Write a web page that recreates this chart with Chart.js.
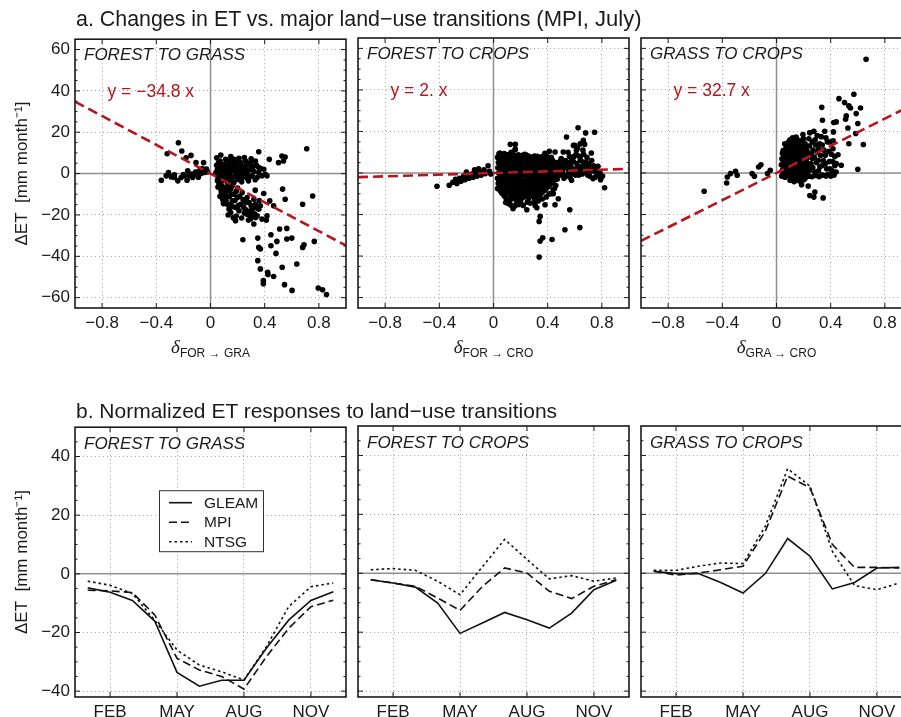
<!DOCTYPE html>
<html>
<head>
<meta charset="utf-8">
<title>ET vs land-use transitions</title>
<script src="https://cdn.jsdelivr.net/npm/chart.js@4.4.1/dist/chart.umd.min.js"></script>
<style>
  html, body { margin: 0; padding: 0; background: #fff; overflow: hidden; }
  #fig { position: relative; width: 930px; height: 717px; font-family: "Liberation Sans", Arial, Helvetica, sans-serif; color: #1a1a1a; }
  #fig canvas { position: absolute; }
  .row-title { position: absolute; left: 76px; font-size: 21px; line-height: 21px; white-space: nowrap; }
  .row-title small { font-size: 22px; }
  .x-title { position: absolute; width: 271px; top: 338px; text-align: center; line-height: 18px; white-space: nowrap; }
  .x-title i { font-family: "Liberation Serif", "Times New Roman", serif; font-size: 19px; }
  .x-title span { font-size: 12px; position: relative; top: 3.5px; }
</style>
</head>
<body>
<div id="fig">
  <div class="row-title" style="top:8px;font-size:21.4px">a. Changes in ET vs. major land−use transitions <small>(MPI, July)</small></div>
  <div class="row-title" style="top:400px">b. Normalized ET responses to land−use transitions</div>
  <div class="x-title" style="left:75px"><i>δ</i><span>FOR → GRA</span></div>
  <div class="x-title" style="left:358px"><i>δ</i><span>FOR → CRO</span></div>
  <div class="x-title" style="left:641px"><i>δ</i><span>GRA → CRO</span></div>
</div>
<script>
const FONT = '"Liberation Sans", Arial, Helvetica, sans-serif';
const INK = '#1a1a1a';
const RED = '#b3161c';

// ---- data ----
const panelNames = ['FOREST TO GRASS', 'FOREST TO CROPS', 'GRASS TO CROPS'];
const slopes = [-34.8, 2.0, 32.7];
const slopeLabels = ['y = −34.8 x', 'y = 2. x', 'y = 32.7 x'];
const regressionEnds = [-1, 1];

const deltaTicks = [-0.8, -0.4, 0, 0.4, 0.8];
const deltaTickLabels = ['−0.8', '−0.4', '0', '0.4', '0.8'];
const etTicksA = [-60, -40, -20, 0, 20, 40, 60];
const etTickLabelsA = ['−60', '−40', '−20', '0', '20', '40', '60'];
const etTicksB = [-40, -20, 0, 20, 40];
const etTickLabelsB = ['−40', '−20', '0', '20', '40'];

const months = [1, 2, 3, 4, 5, 6, 7, 8, 9, 10, 11, 12];
const monthTicks = [2, 5, 8, 11];
const monthTickLabels = ['FEB', 'MAY', 'AUG', 'NOV'];
const products = ['GLEAM', 'MPI', 'NTSG'];

// monthly normalized responses [GLEAM, MPI, NTSG]
const forGraMonthly = [
  [-4.8, -6.3, -9.1, -16.1, -33.6, -38.3, -36.3, -36.3, -25.4, -15.8, -9.1, -6.1],
  [-5.6, -5.8, -6.4, -14.0, -28.8, -32.8, -35.0, -39.3, -28.3, -18.6, -11.2, -9.0],
  [-2.5, -3.9, -6.7, -15.8, -26.0, -31.1, -33.4, -36.2, -24.9, -11.2, -4.4, -3.1]
];
const forCroMonthly = [
  [-2.2, -3.3, -4.7, -10.1, -20.4, -16.9, -13.3, -15.8, -18.6, -13.5, -5.6, -2.4],
  [-2.2, -3.3, -4.4, -8.4, -12.6, -4.5, 1.8, 0.1, -6.1, -8.6, -4.4, -2.2],
  [1.2, 1.6, 1.0, -2.7, -7.3, 2.2, 11.5, 4.7, -1.9, -0.8, -2.7, -1.6]
];
const graCroMonthly = [
  [0.7, -0.1, -0.1, -3.1, -6.7, -0.1, 11.8, 5.8, -5.3, -3.1, 1.8, 2.0],
  [0.7, -0.6, 0.1, 1.2, 2.4, 14.3, 33.0, 29.0, 9.8, 2.0, 2.0, 1.8],
  [1.0, 1.0, 2.4, 3.5, 3.3, 16.0, 35.5, 29.6, 7.5, -4.2, -5.6, -3.3]
];

// scatter points [delta, dET]
const forGraPts = [
  [-0.363,-3.2],[-0.327,-1.1],[-0.31,0.5],[-0.29,-1.6],[-0.266,-1.9],[-0.241,-3.5],[-0.217,-1.9],[-0.193,-1.1],
  [-0.173,-3.2],[-0.156,-1.1],[-0.132,-1.9],[-0.12,-0.3],[-0.095,-0.6],[-0.071,0],[-0.046,0.5],[-0.022,0.8],
  [-0.237,14.9],[-0.212,10.9],[-0.32,9.6],[-0.18,7.7],[-0.144,8.8],[-0.107,5.3],[-0.051,5.3],[-0.168,1.3],
  [-0.266,-0.6],[-0.08,1.5],[-0.06,2.5],[-0.11,0.8],[-0.2,-0.5],[-0.14,-0.2],[-0.03,2.2],[-0.09,-1.8],
  [0.046,7.7],[0.076,9.0],[0.071,6.1],[0.1,4.5],[0.112,6.9],[0.137,6.1],[0.173,6.9],[0.21,7.4],[0.222,5.3],
  [0.259,6.1],[0.295,5.3],[0.332,6.1],[0.32,3.7],[0.356,2.9],[0.393,2.1],[0.405,-0.3],[0.417,-1.1],[0.38,-1.1],
  [0.344,-1.9],[0.307,-1.1],[0.27,0.5],[0.234,2.1],[0.198,2.9],[0.161,2.1],[0.124,1.3],[0.088,1.3],[0.051,2.1],
  [0.051,-0.3],[0.088,-1.1],[0.124,-1.9],[0.161,-1.9],[0.198,-2.7],[0.234,-1.9],[0.27,-2.2],[0.222,0.5],[0.19,0.5],
  [0.149,3.7],[0.295,2.1],[0.356,0.5],[0.124,-4.3],[0.088,-3.5],[0.173,-4.3],[0.246,3.7],[0.283,4.5],[0.185,4.5],
  [0.063,3.7],[0.04,0.5],[0.06,5.5],[0.15,8.2],[0.25,7.8],[0.3,7.2],[0.07,-5],[0.11,-0.5],[0.14,0],[0.175,1.2],
  [0.21,-1],[0.26,-0.8],[0.32,1],[0.37,2.5],[0.2,6],[0.12,4],[0.085,3],[0.16,5],[0.28,-3.5],[0.23,-4],[0.33,-3],
  [0.045,4],[0.055,-2],[0.065,1],[0.075,-3],[0.08,4.5],[0.095,-0.2],[0.105,2.5],[0.115,-3],[0.13,3],[0.135,-1],
  [0.145,1.5],[0.155,-3.5],[0.165,3.5],[0.18,-1],[0.19,6.5],[0.205,1.5],[0.215,-3],[0.225,3.5],[0.24,0],[0.255,2],
  [0.265,4],[0.28,1.5],[0.29,-1.5],[0.31,3],[0.34,4],
  [0.063,-5.1],[0.076,-7.6],[0.088,-10],[0.1,-12.4],[0.124,-14.8],[0.137,-17.2],[0.149,-18.8],[0.161,-13.2],
  [0.185,-16.4],[0.21,-18],[0.222,-14.8],[0.246,-16.4],[0.27,-19.6],[0.295,-18],[0.307,-20.4],[0.198,-11.6],
  [0.234,-9.2],[0.27,-11.6],[0.32,-12.4],[0.332,-14.8],[0.356,-17.2],[0.124,-8.4],[0.161,-5.9],[0.1,-6.7],
  [0.173,-10],[0.259,-14],[0.344,-20.4],[0.38,-22],[0.063,-1.9],[0.051,-3.5],[0.08,-9],[0.11,-10.5],[0.14,-11],
  [0.15,-7.5],[0.2,-7],[0.19,-20.5],[0.23,-21.5],[0.28,-22.5],[0.33,-8],[0.3,-15.5],[0.095,-14.5],[0.13,-20],
  [0.17,-21.5],[0.36,-13],
  [0.055,-6.5],[0.07,-11],[0.085,-6],[0.09,-12.5],[0.105,-8.5],[0.115,-13],[0.13,-6.5],[0.145,-15],[0.155,-10],
  [0.165,-16],[0.18,-13],[0.19,-8.5],[0.205,-15.5],[0.215,-11],[0.24,-12.5],[0.25,-19],[0.26,-17.5],[0.285,-14],
  [0.29,-20],[0.31,-17],[0.325,-19.5],[0.34,-16.5],
  [0.356,10.6],[0.434,6.9],[0.502,5.3],[0.527,8.5],[0.551,8.0],[0.539,6.1],[0.71,12],[0.393,-9.6],[0.532,-7.5],
  [0.551,-12.4],[0.68,-14.8],[0.754,-10.8],[0.437,-13.2],[0.466,-15.6],[0.368,-15.6],[0.332,-21.2],[0.412,-22.5],
  [0.417,-20.4],[0.239,-32],[0.349,-31.2],[0.356,-35.7],[0.368,-36.5],[0.446,-29.6],[0.446,-34.9],[0.49,-32.8],
  [0.483,-38.6],[0.51,-26.8],[0.563,-26.5],[0.563,-31.6],[0.6,-31.2],[0.68,-35.7],[0.69,-34.4],[0.766,-32.8],
  [0.349,-42.1],[0.368,-46.1],[0.422,-47.7],[0.424,-48.8],[0.466,-49.8],[0.529,-45.3],[0.637,-43.7],[0.39,-51.7],
  [0.39,-53.3],[0.546,-53.7],[0.602,-56.5],[0.795,-55.3],[0.827,-56.2],[0.856,-58.5],[0.185,-22.8],[0.168,-21.2],
  [0.32,-24.4],[0.295,-22]
];

const forCroPts = [
  [-0.417,-6.4],[-0.327,-5.9],[-0.3,-4.5],[-0.28,-3.0],[-0.27,-5.0],[-0.25,-2.5],[-0.24,-4.0],[-0.22,-1.5],
  [-0.21,-3.2],[-0.19,-1.0],[-0.18,-2.5],[-0.16,-0.5],[-0.15,-2.0],[-0.13,0.2],[-0.12,-1.5],[-0.1,0.5],
  [-0.09,-1.0],[-0.07,1.5],[-0.06,-0.3],[-0.04,3.5],[-0.03,0.8],[-0.02,-0.5],[-0.2,0.5],[-0.11,2.0],[-0.14,1.5],
  [0.03,-7.5],[0.035,-5],[0.03,-2.5],[0.038,0],[0.032,2.5],[0.036,5],[0.03,7.5],[0.04,9.2],
  [0.062,-9.8],[0.066,-7.2],[0.06,-4.6],[0.068,-2],[0.063,0.8],[0.067,3.2],[0.061,5.8],[0.065,8.4],
  [0.092,-12],[0.097,-9.5],[0.093,-6.8],[0.098,-4.2],[0.091,-1.5],[0.096,1.2],[0.094,3.9],[0.099,6.4],[0.092,8.6],
  [0.122,-13.2],[0.127,-10.6],[0.121,-8],[0.126,-5.4],[0.124,-2.8],[0.128,0],[0.123,2.6],[0.126,5.2],[0.121,7.8],[0.13,10],
  [0.152,-12.2],[0.157,-9.6],[0.153,-7],[0.158,-4.4],[0.151,-1.8],[0.156,0.9],[0.154,3.5],[0.159,6],[0.152,8.4],[0.16,11.5],
  [0.182,-11],[0.187,-8.4],[0.183,-5.8],[0.186,-3.2],[0.181,-0.6],[0.188,2],[0.184,4.6],[0.186,7.2],[0.183,8.8],
  [0.212,-12],[0.217,-9.4],[0.213,-6.8],[0.218,-4.1],[0.211,-1.4],[0.216,1.3],[0.214,4],[0.219,6.6],[0.212,8.5],
  [0.242,-11],[0.247,-8.5],[0.243,-5.9],[0.248,-3.3],[0.241,-0.7],[0.246,1.9],[0.244,4.5],[0.249,7],[0.242,8.7],
  [0.272,-10.4],[0.277,-7.9],[0.273,-5.2],[0.278,-2.6],[0.271,0.1],[0.276,2.7],[0.274,5.3],[0.279,7.6],
  [0.302,-12.2],[0.307,-9.6],[0.303,-7],[0.308,-4.4],[0.301,-1.7],[0.306,1],[0.304,3.6],[0.309,6.2],[0.303,8.2],
  [0.332,-11],[0.337,-8.4],[0.333,-5.8],[0.338,-3.2],[0.331,-0.5],[0.336,2.2],[0.334,4.8],[0.339,7.2],
  [0.362,-9.2],[0.367,-6.6],[0.363,-4],[0.368,-1.4],[0.361,1.2],[0.366,3.8],[0.364,6.4],[0.369,8.3],
  [0.392,-7.4],[0.397,-4.8],[0.393,-2.2],[0.398,0.4],[0.391,3],[0.396,5.6],[0.394,8],
  [0.422,-5.2],[0.427,-2.6],[0.423,0],[0.428,2.6],[0.421,5.2],[0.426,7.6],
  [0.452,-3.2],[0.457,-0.6],[0.453,2],[0.458,4.4],
  [0.05,-8.6],[0.052,-6.2],[0.048,-3.6],[0.051,-1],[0.049,1.8],[0.053,4.4],[0.05,6.8],[0.047,9.6],
  [0.079,-10.9],[0.082,-8.3],[0.078,-5.7],[0.081,-3.1],[0.08,-0.4],[0.083,2.2],[0.077,4.8],[0.081,7.4],[0.079,9.4],
  [0.108,-12.3],[0.111,-9.2],[0.109,-6.6],[0.112,-4],[0.107,-1.4],[0.11,1.3],[0.113,3.9],[0.108,6.5],[0.111,8.9],
  [0.139,-11.8],[0.141,-8.9],[0.138,-6.2],[0.142,-3.6],[0.14,-0.9],[0.137,1.8],[0.141,4.4],[0.139,7],[0.142,9.3],
  [0.168,-12.6],[0.171,-10.2],[0.169,-7.6],[0.172,-5],[0.167,-2.4],[0.17,0.3],[0.173,2.9],[0.168,5.5],[0.171,8.1],
  [0.199,-12.4],[0.201,-9.9],[0.198,-7.2],[0.202,-4.6],[0.2,-2],[0.197,0.7],[0.201,3.3],[0.199,5.9],[0.202,8.2],
  [0.228,-11.4],[0.231,-8.9],[0.229,-6.3],[0.232,-3.7],[0.227,-1],[0.23,1.6],[0.233,4.2],[0.228,6.8],[0.231,9],
  [0.259,-12.1],[0.261,-9.7],[0.258,-7.1],[0.262,-4.5],[0.26,-1.9],[0.257,0.8],[0.261,3.4],[0.259,6],[0.262,8.1],
  [0.288,-11.3],[0.291,-8.7],[0.289,-6.1],[0.292,-3.5],[0.287,-0.9],[0.29,1.8],[0.293,4.4],[0.288,7],
  [0.319,-12.5],[0.321,-10],[0.318,-7.4],[0.322,-4.8],[0.32,-2.2],[0.317,0.5],[0.321,3.1],[0.319,5.7],[0.322,8],
  [0.348,-10.1],[0.351,-7.6],[0.349,-5],[0.352,-2.4],[0.347,0.2],[0.35,2.9],[0.353,5.5],[0.348,7.7],
  [0.379,-8.3],[0.381,-5.8],[0.378,-3.2],[0.382,-0.6],[0.38,2],[0.377,4.6],[0.381,7.1],[0.379,9.5],
  [0.408,-6.4],[0.411,-3.8],[0.409,-1.2],[0.412,1.4],[0.407,4],[0.41,6.6],[0.412,10.5],
  [0.438,-4.4],[0.441,-1.8],[0.439,0.8],[0.442,3.4],[0.437,6],
  [0.11,-14.8],[0.2,-14.5],[0.25,-14],[0.33,-13.5],[0.41,-10],[0.45,-7.5],[0.17,-14],
  [0.09,-14.2],[0.13,-15.5],[0.16,-15.8],[0.19,-15.2],[0.22,-15.6],[0.27,-14.5],[0.3,-14.2],[0.36,-12.5],[0.39,-11.5],
  [0.48,2],[0.49,-1],[0.5,4],[0.51,0.5],[0.52,-2.5],[0.53,6],[0.54,2.5],[0.55,-0.5],[0.56,8],[0.57,3.5],[0.58,0],
  [0.59,5.5],[0.6,1.5],[0.61,9],[0.62,3],[0.63,-1],[0.64,6],[0.65,2],[0.66,11],[0.67,4],[0.68,0.5],[0.69,7.5],
  [0.7,2.5],[0.71,-1.5],[0.73,1],[0.74,3.5],[0.75,-2],[0.76,0.5],[0.78,-1.5],[0.62,12],[0.64,14],[0.59,13.3],
  [0.55,10],[0.5,7],[0.47,5],[0.44,-8],[0.46,-6],[0.42,-10],[0.47,-3],
  [0.465,1],[0.475,-1.5],[0.485,3.5],[0.495,6],[0.505,-0.5],[0.515,2.5],[0.525,4.5],[0.535,-1.5],[0.545,5],
  [0.555,1.5],[0.565,-2],[0.575,5.5],[0.585,2],[0.595,8],[0.605,-1],[0.615,4.5],[0.625,1],[0.635,8],[0.645,3],
  [0.655,-0.5],[0.665,9],[0.675,2],[0.685,5],[0.695,-1],[0.705,4.5],[0.715,1.5],[0.725,6],[0.745,1.5],[0.765,-1],
  [0.785,0.5],[0.805,-1.5],[0.79,-3.2],
  [0.624,21.8],[0.68,19.3],[0.746,19.6],[0.539,17.3],[0.663,15.7],[0.673,13.8],[0.6,13.3],[0.124,13.8],[0.161,13.8],
  [0.161,11.2],[0.722,9.6],[0.454,10.1],[0.515,10.1],[0.612,10.9],[0.641,7.7],[0.576,6.9],[0.663,5.3],[0.771,3.2],
  [0.795,-2.2],[0.82,-7.1],[0.734,-2.7],[0.576,-3.5],[0.441,-10],[0.478,-12.4],[0.454,-15.3],[0.38,-15.3],
  [0.307,-15.6],[0.32,-16.7],[0.246,-17.7],[0.144,-17.2],[0.105,-13.2],[0.563,-17.7],[0.344,-20.9],[0.337,-23.3],
  [0.527,-27.3],[0.637,-26.3],[0.363,-31.2],[0.344,-32.8],[0.432,-32],[0.337,-40.5]
];

const graCroPts = [
  [0.661,54.8],[-0.534,-8.8],[-0.368,-4.8],[-0.363,-1.9],[-0.339,-0.3],[-0.302,0.8],[-0.29,-1.1],[-0.18,-0.3],
  [-0.163,-1.6],[-0.132,2.9],[-0.115,4.0],[-0.046,1.3],[-0.066,-0.3],
  [0.461,35.8],[0.571,37.9],[0.502,33.9],[0.534,32.3],[0.546,31.3],[0.62,31.3],[0.334,31.6],[0.339,25.4],
  [0.515,27.5],[0.51,25.9],[0.588,28.6],[0.6,23.8],[0.422,24.3],[0.441,24.6],[0.42,19.8],[0.527,21.7],[0.585,19],
  [0.534,14.1],[0.641,13.7],[0.6,1.8],[0.246,19.4],[0.276,20.1],[0.356,20.1],[0.393,14.9],[0.454,8.8],[0.441,4.5],
  [0.478,3.7],[0.417,11.7],
  [0.185,-5.6],[0.234,-6.3],[0.283,-9.2],[0.344,-12],[0.276,-11.6],[0.246,-10.8],[0.21,-2.7],[0.137,-3.5],
  [0.1,-3.5],[0.13,-4.2],[0.17,-3.8],[0.2,-3.2],
  [0.038,-1.5],[0.042,1.2],[0.036,4],[0.04,6.8],[0.044,9.5],
  [0.063,-2],[0.067,0.6],[0.062,3.3],[0.068,6],[0.064,8.7],[0.066,11.4],[0.061,14],
  [0.088,-1.2],[0.093,1.5],[0.089,4.2],[0.094,6.9],[0.087,9.6],[0.092,12.3],[0.09,15],
  [0.113,-2.2],[0.117,0.4],[0.112,3.1],[0.118,5.8],[0.114,8.5],[0.116,11.2],[0.111,14],[0.119,17],
  [0.138,-1.4],[0.143,1.3],[0.139,4],[0.144,6.7],[0.137,9.4],[0.142,12.1],[0.14,14.8],[0.145,17.3],
  [0.163,-2],[0.167,0.7],[0.162,3.4],[0.168,6.1],[0.164,8.8],[0.166,11.5],[0.161,14.2],
  [0.188,-1.2],[0.193,1.5],[0.189,4.2],[0.194,6.9],[0.187,9.6],[0.192,12.3],[0.19,15.5],[0.195,18.5],
  [0.213,-2.1],[0.217,0.6],[0.212,3.3],[0.218,6],[0.214,8.7],[0.216,11.4],[0.211,14],
  [0.238,-1.6],[0.243,1.2],[0.24,4],[0.236,9.5],[0.244,13],[0.239,16.5],[0.246,19.4],
  [0.051,-0.2],[0.053,2.6],[0.05,5.4],[0.052,8.2],[0.049,10.8],
  [0.076,-0.8],[0.079,2],[0.075,4.7],[0.078,7.4],[0.076,10.1],[0.079,12.8],
  [0.101,0.2],[0.103,2.9],[0.1,5.6],[0.102,8.3],[0.099,11],[0.104,13.6],[0.1,16],
  [0.126,-0.9],[0.129,1.8],[0.125,4.5],[0.128,7.2],[0.126,9.9],[0.129,12.6],[0.125,15.4],
  [0.151,0],[0.154,2.7],[0.15,5.4],[0.153,8.1],[0.151,10.8],[0.154,13.5],[0.15,16.2],
  [0.176,-0.6],[0.179,2.1],[0.175,4.8],[0.178,7.5],[0.176,10.2],[0.179,12.9],[0.175,15.6],
  [0.201,0.1],[0.204,2.8],[0.2,5.5],[0.203,8.2],[0.201,10.9],[0.204,13.6],[0.2,16.5],
  [0.226,-0.8],[0.229,1.9],[0.225,4.6],[0.228,7.3],[0.226,10.5],[0.229,13],
  [0.262,-1.8],[0.268,2.5],[0.265,7],[0.27,11],[0.263,15],[0.29,-1.2],[0.295,5],[0.3,10],[0.288,13.5],[0.3,18],
  [0.315,-1.8],[0.32,3],[0.325,8.5],[0.318,14],[0.33,17.5],[0.34,-1],[0.345,6],[0.35,11],[0.365,-1.5],[0.37,2],
  [0.375,15],[0.38,-0.8],[0.39,5.5],[0.4,-1.5],[0.405,9],[0.41,1],[0.425,-1],[0.43,3.5],[0.44,0.5],
  [0.255,4.5],[0.258,9],[0.283,0.5],[0.28,7.5],[0.285,16],[0.31,1],[0.308,6],[0.31,11.5],[0.335,3.5],[0.338,13.5],
  [0.36,8.5],[0.365,17],[0.385,10.5],[0.395,2],[0.415,5.5],[0.418,15.5],[0.43,8],[0.36,4.5]
];

// ---- layout ----
const colLeft = [75, 358, 641];
const rowTop = [38, 426];
const rowHeight = [270, 271];
const AREA_W = 271, AXIS_W = 75, PAD_T = 14, PAD_R = 6, AXIS_H = 30;

function makeCanvas(col, row) {
  const c = document.createElement('canvas');
  const w = AXIS_W + AREA_W + PAD_R, h = PAD_T + rowHeight[row] + AXIS_H;
  c.width = w; c.height = h;
  c.style.width = w + 'px'; c.style.height = h + 'px';
  c.style.left = (colLeft[col] - AXIS_W) + 'px';
  c.style.top = (rowTop[row] - PAD_T) + 'px';
  const fig = document.getElementById('fig');
  fig.insertBefore(c, fig.firstChild);
  return c;
}

function axis(min, max, vals, labels, showLabels, title) {
  return {
    type: 'linear', min: min, max: max,
    afterBuildTicks: s => { s.ticks = vals.map(v => ({ value: v })); },
    afterFit: s => { if (s.isHorizontal()) s.height = AXIS_H; else s.width = AXIS_W; },
    ticks: {
      display: showLabels, autoSkip: false, maxRotation: 0, padding: 5, color: INK,
      font: { family: FONT, size: 17 }, callback: (v, i) => labels[i]
    },
    grid: { color: '#a6a6a6', lineWidth: 1, drawTicks: false },
    border: { display: false, dash: [1, 3] },
    title: title
      ? { display: true, text: title, color: INK, font: { family: FONT, size: 17 }, padding: { top: 12, bottom: 0 } }
      : { display: false }
  };
}

const decor = {
  id: 'decor',
  beforeDatasetsDraw(chart, args, o) {
    const { ctx, chartArea: a, scales: { x, y } } = chart;
    ctx.save();
    ctx.strokeStyle = '#8f8f8f';
    ctx.lineWidth = 1.5;
    ctx.beginPath();
    const y0 = y.getPixelForValue(0);
    ctx.moveTo(a.left, y0); ctx.lineTo(a.right, y0);
    if (o.xZero) {
      const x0 = x.getPixelForValue(0);
      ctx.moveTo(x0, a.top); ctx.lineTo(x0, a.bottom);
    }
    ctx.stroke();
    ctx.restore();
  },
  afterDatasetsDraw(chart, args, o) {
    const { ctx, chartArea: a, scales: { x, y } } = chart;
    ctx.save();
    ctx.strokeStyle = INK;
    ctx.lineWidth = 1;
    ctx.beginPath();
    x.ticks.forEach(t => {
      const px = x.getPixelForValue(t.value);
      ctx.moveTo(px, a.bottom); ctx.lineTo(px, a.bottom - 5);
      ctx.moveTo(px, a.top); ctx.lineTo(px, a.top + 5);
    });
    y.ticks.forEach(t => {
      const py = y.getPixelForValue(t.value);
      ctx.moveTo(a.left, py); ctx.lineTo(a.left + 5, py);
      ctx.moveTo(a.right, py); ctx.lineTo(a.right - 5, py);
    });
    for (let v = Math.ceil(y.min / 5) * 5; v < y.max; v += 5) {
      if (v <= y.min || v % 20 === 0) continue;
      const py = y.getPixelForValue(v);
      ctx.moveTo(a.left, py); ctx.lineTo(a.left + 2.5, py);
      ctx.moveTo(a.right, py); ctx.lineTo(a.right - 2.5, py);
    }
    ctx.stroke();
    ctx.lineWidth = 1.6;
    ctx.strokeRect(a.left, a.top, a.right - a.left, a.bottom - a.top);

    ctx.fillStyle = INK;
    ctx.textBaseline = 'alphabetic';
    ctx.font = 'italic 17px ' + FONT;
    ctx.fillText(o.name, a.left + 9, a.top + o.nameDy);
    if (o.eq) {
      ctx.fillStyle = RED;
      ctx.font = '17.5px ' + FONT;
      ctx.fillText(o.eq, a.left + 32.5, y.getPixelForValue(40) + 6);
    }
    if (o.legend) {
      const bx = a.left + 84, by = a.top + 63, bw = 104, bh = 61;
      ctx.fillStyle = '#fff';
      ctx.fillRect(bx, by, bw, bh);
      ctx.lineWidth = 1;
      ctx.strokeStyle = '#333';
      ctx.strokeRect(bx + 0.5, by + 0.5, bw, bh);
      chart.data.datasets.forEach((d, i) => {
        const ly = by + 12.5 + i * 19.5;
        ctx.setLineDash(d.borderDash);
        ctx.lineWidth = d.borderWidth;
        ctx.strokeStyle = d.borderColor;
        ctx.beginPath(); ctx.moveTo(bx + 10, ly); ctx.lineTo(bx + 33, ly); ctx.stroke();
        ctx.setLineDash([]);
        ctx.fillStyle = INK;
        ctx.font = '15.5px ' + FONT;
        ctx.textBaseline = 'middle';
        ctx.fillText(d.label, bx + 45, ly + 1);
      });
    }
    ctx.restore();
  }
};

function baseOptions(scales, decorOpts) {
  return {
    responsive: false, animation: false, events: [],
    layout: { padding: { top: PAD_T, right: PAD_R, left: 0, bottom: 0 } },
    plugins: { legend: { display: false }, tooltip: { enabled: false }, decor: decorOpts },
    scales: scales
  };
}

// ---- top row: scatter vs delta ----
[forGraPts, forCroPts, graCroPts].forEach((pts, k) => {
  new Chart(makeCanvas(k, 0), {
    type: 'scatter',
    data: {
      datasets: [
        {
          type: 'line', data: regressionEnds.map(x => ({ x: x, y: slopes[k] * x })),
          borderColor: RED, borderWidth: 2.6, borderDash: [10, 5], pointRadius: 0, fill: false
        },
        {
          data: pts, pointRadius: 2.8, pointBackgroundColor: '#000', pointBorderWidth: 0, showLine: false
        }
      ]
    },
    options: baseOptions({
      x: axis(-1, 1, deltaTicks, deltaTickLabels, true, null),
      y: axis(-65, 65, etTicksA, etTickLabelsA, k === 0, k === 0 ? 'ΔET  [mm month⁻¹]' : null)
    }, { name: panelNames[k], nameDy: 20.5, eq: slopeLabels[k], xZero: true, legend: false }),
    plugins: [decor]
  });
});

// ---- bottom row: monthly responses ----
const lineDash = [[], [8, 4], [2.5, 3]];
[forGraMonthly, forCroMonthly, graCroMonthly].forEach((series, k) => {
  new Chart(makeCanvas(k, 1), {
    type: 'line',
    data: {
      datasets: series.map((vals, i) => ({
        label: products[i],
        data: months.map((m, j) => ({ x: m, y: vals[j] })),
        borderColor: '#111', borderWidth: 1.6, borderDash: lineDash[i],
        pointRadius: 0, tension: 0, fill: false
      }))
    },
    options: baseOptions({
      x: axis(0.43, 12.57, monthTicks, monthTickLabels, true, null),
      y: axis(-42, 50, etTicksB, etTickLabelsB, k === 0, k === 0 ? 'ΔET  [mm month⁻¹]' : null)
    }, { name: panelNames[k], nameDy: 22, eq: null, xZero: false, legend: k === 0 }),
    plugins: [decor]
  });
});
</script>
</body>
</html>
